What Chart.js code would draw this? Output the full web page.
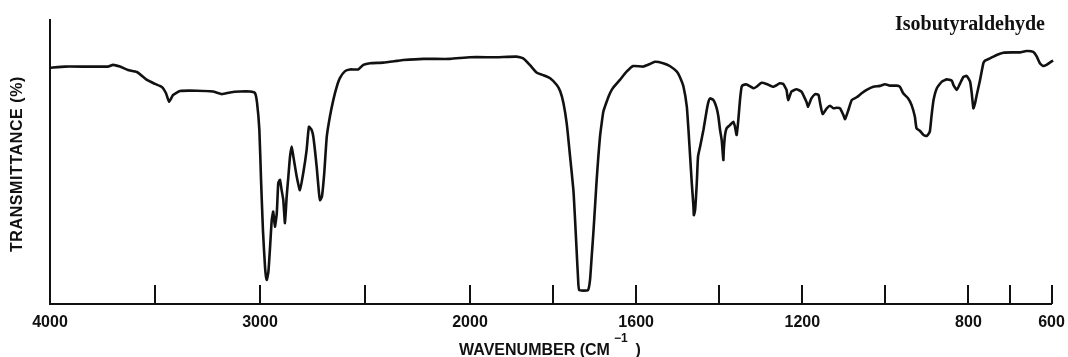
<!DOCTYPE html>
<html>
<head>
<meta charset="utf-8">
<script src="https://cdn.jsdelivr.net/npm/chart.js@4/dist/chart.umd.min.js"></script>
<style>
  html, body { margin: 0; padding: 0; background: #fff; }
  canvas { display: block; }
</style>
</head>
<body>
<canvas id="ir" width="1068" height="357"></canvas>
<script>
// IR spectrum of isobutyraldehyde: wavenumber (cm-1) and transmittance (%)
const wavenumbers = [
  4000, 3929, 3724, 3700, 3667, 3629, 3586, 3538, 3500, 3467, 3448, 3433, 3414, 3381, 3300, 3224,
  3181, 3143, 3095, 3048, 3024, 3014, 3003, 2995, 2986, 2976, 2968, 2960, 2952, 2944, 2937, 2929,
  2920, 2913, 2905, 2897, 2889, 2881, 2873, 2865, 2857, 2849, 2841, 2825, 2810, 2794, 2778, 2767,
  2754, 2746, 2730, 2719, 2714, 2705, 2694, 2682, 2667, 2651, 2635, 2619, 2595, 2571, 2532, 2508,
  2476, 2413, 2349, 2318, 2222, 2095, 2000, 1936, 1888, 1872, 1856, 1839, 1824, 1807, 1791, 1783,
  1775, 1767, 1759, 1751, 1747, 1743, 1740, 1737, 1716, 1711, 1707, 1703, 1699, 1695, 1691, 1687,
  1683, 1679, 1671, 1663, 1655, 1639, 1623, 1607, 1583, 1567, 1555, 1535, 1519, 1502, 1495, 1486,
  1478, 1474, 1470, 1466, 1462, 1461, 1458, 1454, 1451, 1446, 1438, 1430, 1426, 1422, 1414, 1406,
  1402, 1398, 1394, 1390, 1389, 1386, 1382, 1374, 1366, 1362, 1358, 1354, 1350, 1346, 1342, 1334,
  1318, 1310, 1298, 1286, 1270, 1254, 1246, 1238, 1234, 1226, 1214, 1202, 1190, 1186, 1178, 1169,
  1161, 1157, 1151, 1141, 1133, 1125, 1117, 1109, 1101, 1097, 1089, 1081, 1069, 1057, 1045, 1029,
  1013, 1001, 989, 973, 965, 957, 945, 937, 929, 925, 917, 908, 900, 893, 889, 884,
  876, 864, 852, 840, 836, 828, 820, 812, 804, 796, 792, 788, 784, 780, 772, 764,
  760, 748, 732, 716, 692, 676, 660, 644, 636, 628, 620, 612, 604, 596, 589
];
const transmittance = [
  83.2, 83.6, 83.6, 84.2, 83.6, 82.4, 81.7, 78.9, 77.5, 76.4, 74.3, 71.2, 73.6, 75.0, 75.1, 74.8,
  73.9, 74.5, 74.8, 74.8, 74.3, 70.8, 61.3, 43.7, 26.1, 13.0, 8.5, 11.3, 20.1, 29.6, 32.5, 27.2,
  32.0, 42.6, 43.7, 40.1, 36.6, 28.5, 37.8, 44.8, 51.9, 55.4, 51.9, 44.8, 40.1, 46.1, 54.2, 62.4,
  61.3, 58.9, 48.3, 39.0, 36.6, 37.8, 46.1, 58.9, 66.0, 71.8, 76.4, 79.6, 82.0, 82.6, 82.6, 84.2,
  84.8, 85.0, 85.6, 85.9, 86.3, 86.3, 86.9, 86.9, 87.1, 86.5, 84.2, 81.4, 80.6, 79.5, 77.1, 75.0,
  70.8, 63.4, 51.9, 40.1, 29.6, 18.0, 9.6, 4.9, 4.9, 8.5, 16.7, 25.0, 34.3, 43.7, 51.9, 58.9,
  63.6, 67.7, 71.2, 74.2, 76.2, 78.9, 81.8, 83.8, 83.6, 84.5, 85.3, 84.8, 83.8, 81.8, 80.0, 76.5,
  69.5, 61.3, 51.9, 42.5, 34.3, 31.3, 33.1, 42.5, 51.9, 55.4, 61.3, 68.3, 71.2, 72.4, 71.8, 68.9,
  66.0, 61.3, 57.7, 50.7, 54.2, 59.5, 61.9, 63.0, 64.2, 62.4, 59.5, 64.8, 71.8, 76.5, 77.1, 77.3,
  76.0, 76.5, 77.9, 77.5, 76.5, 77.7, 77.5, 75.4, 71.8, 74.8, 75.6, 74.8, 71.2, 69.5, 72.4, 73.9,
  73.6, 70.7, 66.9, 68.9, 69.8, 68.9, 69.1, 68.9, 66.5, 65.1, 68.3, 71.8, 72.8, 74.2, 75.4, 76.5,
  76.8, 77.4, 76.9, 76.9, 76.5, 74.2, 72.4, 70.1, 66.0, 61.9, 61.0, 59.5, 59.2, 60.7, 66.0, 71.8,
  76.0, 78.3, 79.1, 78.6, 77.1, 75.4, 77.7, 80.0, 80.3, 78.3, 74.2, 68.9, 70.7, 73.6, 78.9, 84.8,
  85.7, 86.5, 87.7, 88.5, 88.6, 88.6, 89.1, 88.8, 87.3, 84.8, 83.8, 84.2, 85.0, 85.7, 86.3
];

// Axis divisions
const tickWavenumbers = [4000, 3500, 3000, 2500, 2000, 1800, 1600, 1400, 1200, 1000, 800, 700, 600];
const labeledWavenumbers = [4000, 3000, 2000, 1600, 1200, 800, 600];

const compoundName = 'Isobutyraldehyde';
const yTitle = 'TRANSMITTANCE (%)';
const xTitleMain = 'WAVENUMBER (CM';
const xTitleSup = '\u22121';
const xTitleEnd = ')';

// Below 2000 cm-1 the wavenumber axis is stretched (grating change)
const EXPAND = 1.978;
function toAxis(w) { return w >= 2000 ? 4000 - w : 2000 + (2000 - w) * EXPAND; }
function fromAxis(u) { return u <= 2000 ? 4000 - u : 2000 - (u - 2000) / EXPAND; }

const INK = '#111';

const points = wavenumbers.map((w, i) => ({ x: toAxis(w), y: transmittance[i] }));

const paperPlugin = {
  id: 'paper',
  beforeDraw(chart) {
    const ctx = chart.ctx;
    ctx.save();
    ctx.fillStyle = '#fff';
    ctx.fillRect(0, 0, chart.width, chart.height);
    ctx.restore();
  }
};

// Inward tick marks on the wavenumber axis, plus titles
const decorPlugin = {
  id: 'decor',
  afterDraw(chart) {
    const ctx = chart.ctx;
    const xs = chart.scales.x;
    const area = chart.chartArea;
    ctx.save();
    ctx.strokeStyle = INK;
    ctx.lineWidth = 2;
    tickWavenumbers.forEach(w => {
      if (w === 4000) return;
      const x = Math.round(xs.getPixelForValue(toAxis(w)));
      ctx.beginPath();
      ctx.moveTo(x, area.bottom - 19);
      ctx.lineTo(x, area.bottom);
      ctx.stroke();
    });

    ctx.fillStyle = INK;

    // compound name
    ctx.font = 'bold 20px "Liberation Serif", "Times New Roman", serif';
    ctx.textAlign = 'right';
    ctx.textBaseline = 'alphabetic';
    ctx.fillText(compoundName, 1045, 30);

    // vertical axis title
    ctx.save();
    ctx.translate(17.5, 164);
    ctx.rotate(-Math.PI / 2);
    ctx.font = 'bold 16px "Liberation Sans", Arial, sans-serif';
    ctx.letterSpacing = '0.6px';
    ctx.textAlign = 'center';
    ctx.textBaseline = 'middle';
    ctx.fillText(yTitle, 0, 0);
    ctx.restore();

    // horizontal axis title with superscript
    const mainFont = 'bold 16px "Liberation Sans", Arial, sans-serif';
    const supFont = 'bold 12px "Liberation Sans", Arial, sans-serif';
    ctx.textAlign = 'left';
    ctx.textBaseline = 'alphabetic';
    ctx.font = mainFont;
    const wMain = ctx.measureText(xTitleMain).width;
    const wEnd = ctx.measureText(xTitleEnd).width;
    ctx.font = supFont;
    const wSup = ctx.measureText(xTitleSup).width;
    const total = wMain + 4 + wSup + 8 + wEnd;
    let x = 550 - total / 2;
    const base = 355;
    ctx.font = mainFont;
    ctx.fillText(xTitleMain, x, base);
    x += wMain + 4;
    ctx.font = supFont;
    ctx.fillText(xTitleSup, x, base - 13);
    x += wSup + 8;
    ctx.font = mainFont;
    ctx.fillText(xTitleEnd, x, base);
    ctx.restore();
  }
};

new Chart(document.getElementById('ir'), {
  type: 'line',
  data: {
    datasets: [{
      data: points,
      borderColor: INK,
      borderWidth: 2.6,
      pointRadius: 0,
      tension: 0.15,
      fill: false,
      clip: 10
    }]
  },
  options: {
    responsive: false,
    animation: false,
    devicePixelRatio: 1,
    layout: { padding: { left: 50, right: 16.5, top: 20, bottom: 0 } },
    plugins: { legend: { display: false }, tooltip: { enabled: false } },
    scales: {
      x: {
        type: 'linear',
        position: 'bottom',
        min: 0,
        max: toAxis(600),
        afterBuildTicks(scale) {
          scale.ticks = tickWavenumbers.map(w => ({ value: toAxis(w) }));
        },
        afterFit(scale) {
          scale.height = 53;
          scale.paddingLeft = 0;
          scale.paddingRight = 0;
        },
        grid: { display: false },
        border: { display: true, color: INK, width: 2 },
        ticks: {
          autoSkip: false,
          maxRotation: 0,
          padding: 1,
          color: INK,
          font: { family: '"Liberation Sans", Arial, sans-serif', size: 16, weight: 'bold' },
          callback(value) {
            const w = Math.round(fromAxis(value));
            return labeledWavenumbers.includes(w) ? String(w) : '';
          }
        }
      },
      y: {
        min: 0,
        max: 100,
        afterFit(scale) { scale.width = 0; },
        grid: { display: false },
        border: { display: true, color: INK, width: 2 },
        ticks: { display: false }
      }
    }
  },
  plugins: [paperPlugin, decorPlugin]
});
</script>
</body>
</html>
